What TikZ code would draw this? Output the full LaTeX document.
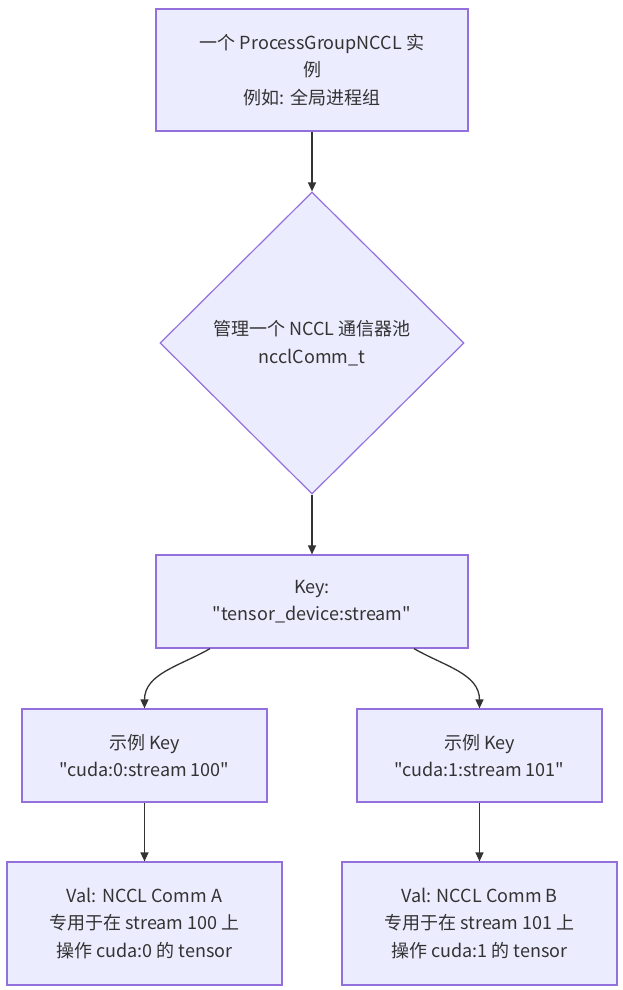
\documentclass[tikz,border=0pt]{standalone}
\usepackage{fontspec}
\newfontfamily\cjkfont{Noto Sans CJK SC}
\usetikzlibrary{shapes.geometric, arrows.meta}

\definecolor{boxfill}{HTML}{ECECFF}
\definecolor{boxline}{HTML}{9370DB}
\definecolor{arrowcol}{HTML}{333333}

\tikzset{
    box/.style={draw=boxline, fill=boxfill, line width=1.2pt, align=center,
        inner sep=0pt, text=arrowcol, font=\cjkfont\fontsize{18}{27.5}\selectfont},
    choice/.style={box, diamond, aspect=1},
    link/.style={draw=arrowcol, line width=1.3pt, -{Triangle[length=9pt,width=8pt]}}
}

\begin{document}
\begin{tikzpicture}[x=1pt, y=-1pt]
            
            \useasboundingbox (0, 0) rectangle (623, 990);
            
            % Top: the process group
            \node[box, minimum width=312pt, minimum height=122pt] (pg) at (312, 70)
                {一个 ProcessGroupNCCL 实\\例\\例如: 全局进程组};
            
            % Pool of communicators
            \node[choice, minimum width=304pt, minimum height=302pt] (pool) at (312, 343)
                {管理一个 NCCL 通信器池\\ncclComm\_t};
            
            % Key
            \node[box, minimum width=312pt, minimum height=93pt] (key) at (312, 601.5)
                {Key:\\"tensor\_device:stream"};
            
            % Example keys
            \node[box, minimum width=245pt, minimum height=93pt] (keyA) at (144.5, 755.5)
                {示例 Key\\"cuda:0:stream 100"};
            \node[box, minimum width=245pt, minimum height=93pt] (keyB) at (479.5, 755.5)
                {示例 Key\\"cuda:1:stream 101"};
            
            % Values
            \node[box, minimum width=275pt, minimum height=123pt] (valA) at (144.5, 923.5)
                {Val: NCCL Comm A\\专用于在 stream 100 上\\操作 cuda:0 的 tensor};
            \node[box, minimum width=275pt, minimum height=123pt] (valB) at (479.5, 923.5)
                {Val: NCCL Comm B\\专用于在 stream 101 上\\操作 cuda:1 的 tensor};
            
            % Connectors
            \draw[link] (pg) -- (pool);
            \draw[link] (pool) -- (key);
            \draw[link] ([xshift=-102pt]key.south) to[out=-150, in=90] (keyA.north);
            \draw[link] ([xshift=102pt]key.south) to[out=-30, in=90] (keyB.north);
            \draw[link] (keyA) -- (valA);
            \draw[link] (keyB) -- (valB);
                
        \end{tikzpicture}
\end{document}
